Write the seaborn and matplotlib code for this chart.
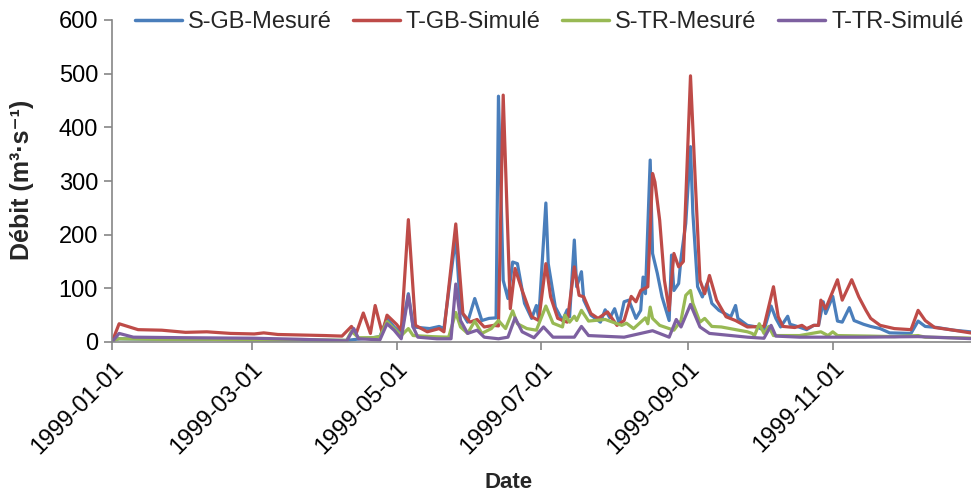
import numpy as np
import pandas as pd
import matplotlib
matplotlib.use("Agg")
import matplotlib.pyplot as plt
import matplotlib.dates as mdates
import seaborn as sns

# day offsets from 1999-01-01 and discharge values
sgb_day = [0, 3, 20, 40, 60, 80, 99, 105, 110, 113, 116, 119, 122, 125, 127, 134, 138, 140, 145, 147,
           150, 153, 156, 159, 162, 163, 165, 167, 169, 171, 174, 177, 179, 180, 183, 184, 187, 190, 192, 193,
           195, 196, 198, 199, 202, 206, 208, 210, 212, 214, 216, 218, 221, 223, 224, 225, 227, 228, 230, 232,
           235, 236, 237, 239, 240, 242, 244, 245, 247, 249, 251, 253, 256, 261, 263, 264, 268, 272, 275, 278,
           280, 282, 285, 286, 289, 293, 296, 298, 300, 301, 304, 306, 308, 311, 313, 317, 320, 324, 328, 337,
           340, 343, 348, 355, 362, 364]
sgb_val = [3, 6, 5, 5, 4, 4, 3, 6, 8, 10, 44, 28, 16, 90, 28, 25, 29, 25, 196, 59,
           37, 81, 40, 44, 45, 458, 115, 81, 149, 146, 72, 44, 68, 44, 259, 146, 65, 40, 60, 47,
           190, 103, 131, 78, 50, 37, 60, 45, 62, 34, 75, 78, 44, 59, 121, 90, 339, 165, 128, 84,
           40, 162, 96, 109, 156, 221, 364, 240, 103, 84, 109, 72, 59, 47, 68, 44, 31, 28, 22, 67,
           44, 28, 48, 33, 29, 23, 31, 31, 75, 53, 85, 39, 37, 64, 40, 33, 29, 25, 17, 16,
           39, 29, 27, 22, 19, 18]

tgb_day = [0, 3, 11, 21, 31, 40, 50, 60, 64, 70, 80, 90, 97, 101, 103, 106, 109, 111, 114, 116,
           120, 122, 125, 128, 133, 138, 140, 145, 148, 151, 154, 157, 161, 163, 165, 168, 170, 173, 177, 180,
           183, 185, 188, 192, 195, 197, 199, 202, 205, 209, 213, 216, 219, 221, 223, 226, 228, 229, 231, 233,
           235, 237, 239, 241, 244, 246, 248, 250, 252, 255, 259, 263, 268, 275, 279, 281, 283, 288, 291, 293,
           296, 298, 299, 301, 306, 308, 312, 315, 318, 320, 324, 330, 337, 340, 343, 347, 355, 362, 364]
tgb_val = [0, 34, 23, 22, 18, 19, 16, 15, 17, 14, 13, 12, 11, 29, 16, 54, 16, 68, 16, 50,
           33, 22, 228, 31, 19, 25, 19, 220, 53, 37, 42, 28, 31, 30, 460, 62, 137, 96, 47, 40,
           146, 84, 44, 37, 140, 87, 84, 53, 44, 56, 31, 40, 85, 75, 96, 103, 314, 298, 227, 115,
           59, 165, 140, 150, 496, 302, 115, 90, 124, 78, 47, 40, 28, 29, 103, 47, 29, 27, 31, 25,
           31, 31, 78, 62, 116, 78, 116, 84, 59, 44, 31, 25, 23, 59, 40, 27, 22, 17, 16]

str_day = [0, 3, 20, 40, 60, 80, 99, 101, 104, 110, 113, 116, 119, 122, 125, 127, 135, 142, 145, 147,
           150, 153, 156, 160, 163, 166, 169, 171, 175, 179, 183, 186, 190, 191, 193, 195, 196, 198, 201, 208,
           215, 217, 220, 225, 226, 227, 228, 231, 237, 240, 242, 244, 245, 248, 250, 253, 257, 268, 270, 271,
           273, 275, 277, 279, 290, 299, 302, 304, 306, 320, 330, 340, 343, 355, 364]
str_val = [3, 6, 5, 5, 4, 4, 3, 20, 8, 8, 10, 38, 25, 12, 25, 12, 10, 9, 55, 28,
           16, 39, 16, 25, 40, 25, 58, 34, 25, 22, 67, 35, 28, 50, 37, 48, 40, 59, 39, 42,
           31, 35, 25, 45, 34, 65, 44, 31, 22, 40, 87, 96, 72, 37, 44, 29, 28, 19, 16, 12,
           34, 16, 29, 12, 12, 19, 12, 19, 12, 11, 10, 12, 9, 8, 7]

ttr_day = [0, 3, 9, 30, 60, 80, 99, 102, 104, 113, 116, 119, 122, 125, 127, 129, 137, 143, 145, 147,
           150, 154, 157, 163, 167, 170, 173, 178, 182, 186, 195, 198, 201, 216, 228, 235, 238, 240, 244, 248,
           252, 268, 275, 278, 280, 290, 317, 340, 364]
ttr_val = [0, 16, 9, 8, 7, 5, 2, 25, 6, 4, 34, 22, 6, 87, 28, 9, 6, 6, 108, 40,
           16, 22, 9, 6, 9, 45, 19, 8, 28, 9, 9, 29, 12, 9, 21, 9, 42, 28, 70, 28,
           16, 9, 7, 31, 11, 9, 9, 10, 6]

series_names = ["S-GB-Mesuré", "T-GB-Simulé", "S-TR-Mesuré", "T-TR-Simulé"]
colors = ["#4A7EBB", "#BE4B48", "#98B954", "#7D60A0"]

start = pd.Timestamp("1999-01-01")
frames = []
for name, d, v in zip(series_names, [sgb_day, tgb_day, str_day, ttr_day],
                      [sgb_val, tgb_val, str_val, ttr_val]):
    frames.append(pd.DataFrame({"Date": start + pd.to_timedelta(d, unit="D"),
                                "Debit": v, "serie": name}))
df = pd.concat(frames, ignore_index=True)

sns.set_theme(style="white")
plt.rcParams["font.family"] = ["Liberation Sans", "DejaVu Sans"]

fig = plt.figure(figsize=(9.71, 4.95), dpi=100)
ax = fig.add_axes([112 / 971, 1 - 342 / 495, (975 - 112) / 971, 322 / 495])

sns.lineplot(data=df, x="Date", y="Debit", hue="serie", hue_order=series_names,
             palette=colors, estimator=None, linewidth=2.3, ax=ax, legend=False)

ax.set_xlim(start, pd.Timestamp("1999-12-31"))
ax.set_ylim(0, 600)
ax.set_yticks(range(0, 601, 100))
xt = pd.to_datetime(["1999-01-01", "1999-03-01", "1999-05-01", "1999-07-01", "1999-09-01", "1999-11-01"])
ax.set_xticks(xt)
ax.xaxis.set_major_formatter(mdates.DateFormatter("%Y-%m-%d"))

for s in ["top", "right"]:
    ax.spines[s].set_visible(False)
for s in ["left", "bottom"]:
    ax.spines[s].set_color("#868686")
    ax.spines[s].set_linewidth(1.2)

ax.tick_params(axis="both", which="major", labelsize=17, colors="#868686", labelcolor="black",
               length=6, width=1.2, direction="out")
ax.tick_params(axis="y", left=True, pad=4)
ax.tick_params(axis="x", bottom=True, pad=5)
for lab in ax.get_xticklabels():
    lab.set_rotation(45)
    lab.set_ha("right")
    lab.set_va("top")
    lab.set_rotation_mode("anchor")

ax.set_xlabel("")
ax.set_ylabel("")
fig.text(509 / 971, 1 - 483 / 495, "Date", fontsize=16, fontweight="bold", ha="center", va="center")
fig.text(22 / 971, 1 - 180 / 495, "Débit (m³·s⁻¹)", fontsize=18, fontweight="bold",
         rotation=90, ha="center", va="center")

handles = [plt.Line2D([], [], color=c, lw=2.5) for c in colors]
fig.legend(handles, series_names, loc="center", bbox_to_anchor=(549 / 971, 1 - 22 / 495),
           ncol=4, frameon=False, fontsize=17, handlelength=2.0, handletextpad=0.25,
           columnspacing=0.9, borderaxespad=0)

fig.savefig("out.png", dpi=100)
